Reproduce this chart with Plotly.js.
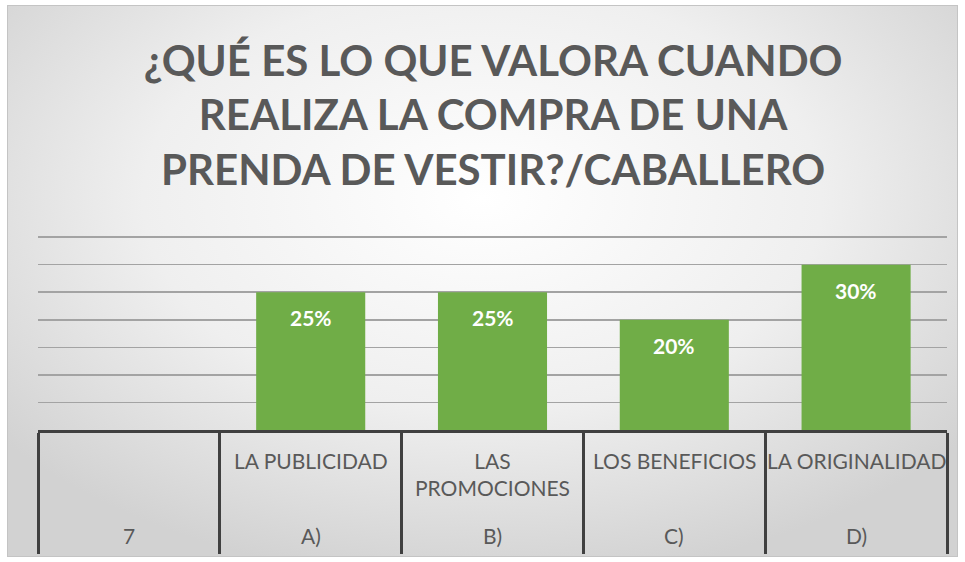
<!DOCTYPE html>
<html>
<head>
<meta charset="utf-8">
<script src="https://cdn.plot.ly/plotly-3.0.1.min.js"></script>
<style>
  html, body { margin: 0; padding: 0; background: #ffffff; }
  #bg {
    position: absolute; left: 7px; top: 5px; width: 949px; height: 550px;
    border: 1px solid #c4c4c4;
    background: radial-gradient(ellipse 65% 70% at 50% 35%, #ffffff 0%, #efefef 55%, #d2d2d2 100%);
  }
  #chart { position: absolute; left: 0; top: 0; width: 965px; height: 562px; }
</style>
</head>
<body>
<div id="bg"></div>
<div id="chart"></div>
<script>
// Data
const categories = ["7", "A)", "B)", "C)", "D)"];
const answerLabels = ["", "LA PUBLICIDAD", "LAS<br>PROMOCIONES", "LOS BENEFICIOS", "LA ORIGINALIDAD"];
const values = [null, 0.25, 0.25, 0.20, 0.30];
const valueLabels = ["", "25%", "25%", "20%", "30%"];
const titleText = "¿QUÉ ES LO QUE VALORA CUANDO<br>REALIZA LA COMPRA DE UNA<br>PRENDA DE VESTIR?/CABALLERO";

const FONT = "Lato, 'Open Sans', sans-serif";
const TXT = "#595959";

const trace = {
  type: "bar",
  x: categories,
  y: values,
  marker: { color: "#70AD47" },
  hoverinfo: "skip"
};

const annotations = [];
categories.forEach((c, i) => {
  annotations.push({
    x: i, xref: "x", y: 0, yref: "paper",
    yanchor: "top", yshift: -16,
    text: answerLabels[i], showarrow: false,
    font: { family: FONT, size: 21, color: TXT }
  });
  annotations.push({
    x: i, xref: "x", y: 0, yref: "paper",
    yanchor: "middle", yshift: -105,
    text: c, showarrow: false,
    font: { family: FONT, size: 21, color: TXT }
  });
  if (values[i] != null) {
    annotations.push({
      x: i, xref: "x", y: values[i], yref: "y",
      yanchor: "middle", yshift: -25.5,
      text: valueLabels[i], showarrow: false,
      font: { family: FONT, size: 21, color: "#ffffff", weight: "bold" }
    });
  }
});

const layout = {
  width: 965, height: 562,
  paper_bgcolor: "rgba(0,0,0,0)",
  plot_bgcolor: "rgba(0,0,0,0)",
  margin: { l: 38, r: 18, t: 236, b: 132 },
  showlegend: false,
  bargap: 0.4,
  title: {
    text: titleText,
    font: { family: FONT, size: 42, color: TXT, weight: "bold" },
    x: 0.511, xanchor: "center",
    y: 0.865, yanchor: "top"
  },
  xaxis: {
    type: "category",
    range: [-0.5, 4.5],
    showticklabels: false,
    ticks: "outside",
    tickson: "boundaries",
    ticklen: 121,
    tickwidth: 3,
    tickcolor: "#404040",
    showline: true,
    linecolor: "#404040",
    linewidth: 3,
    showgrid: false,
    zeroline: false,
    fixedrange: true
  },
  yaxis: {
    range: [0, 0.352],
    tick0: 0,
    dtick: 0.05,
    showticklabels: false,
    showgrid: true,
    gridcolor: "#a3a3a3",
    gridwidth: 1.5,
    zeroline: false,
    showline: false,
    fixedrange: true
  },
  annotations: annotations
};

Plotly.newPlot("chart", [trace], layout, { displayModeBar: false, staticPlot: true });
</script>
</body>
</html>
